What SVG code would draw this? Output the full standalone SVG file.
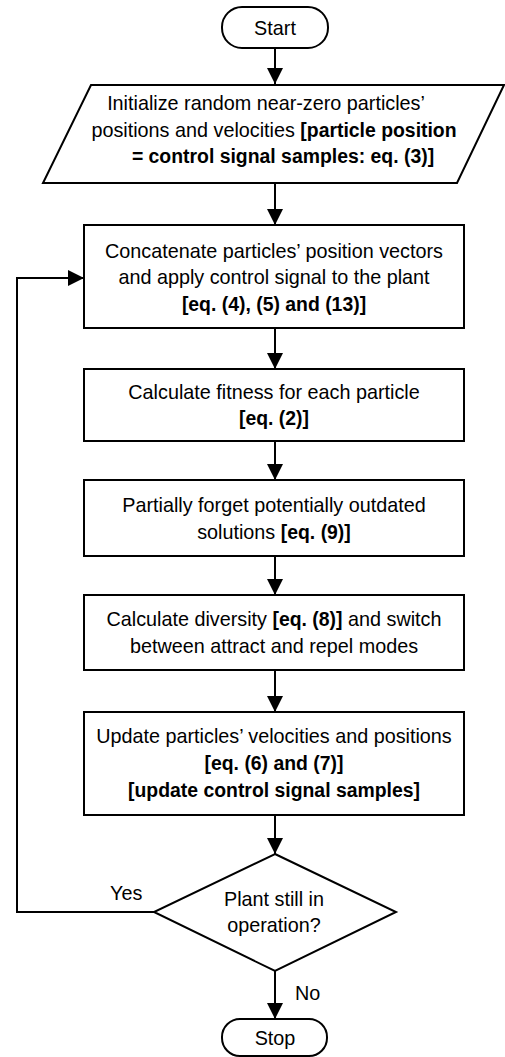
<svg xmlns="http://www.w3.org/2000/svg" width="505" height="1057" viewBox="0 0 505 1057">
<style>
.shape{fill:#fff;stroke:#000;stroke-width:2}
.conn{fill:none;stroke:#000;stroke-width:2}
text{font-family:"Liberation Sans",Arial,sans-serif;font-size:19.8px;fill:#000;text-anchor:middle}
.b{font-weight:bold;font-size:19.4px}
.lbl{text-anchor:start}
</style>
<defs>
<marker id="arr" viewBox="0 0 16 16" refX="16" refY="8" markerWidth="16" markerHeight="16" markerUnits="userSpaceOnUse" orient="auto">
<path d="M0,0 L16,8 L0,16 Z" fill="#000"/>
</marker>
</defs>
<rect width="505" height="1057" fill="#fff"/>
<g id="connectors">
<line class="conn" x1="275" y1="48" x2="275" y2="84" marker-end="url(#arr)"/>
<line class="conn" x1="275" y1="183" x2="275" y2="225" marker-end="url(#arr)"/>
<line class="conn" x1="275" y1="328" x2="275" y2="369" marker-end="url(#arr)"/>
<line class="conn" x1="275" y1="441" x2="275" y2="480" marker-end="url(#arr)"/>
<line class="conn" x1="275" y1="556" x2="275" y2="595" marker-end="url(#arr)"/>
<line class="conn" x1="275" y1="670" x2="275" y2="712" marker-end="url(#arr)"/>
<line class="conn" x1="275" y1="815" x2="275" y2="854" marker-end="url(#arr)"/>
<line class="conn" x1="275" y1="971" x2="275" y2="1019" marker-end="url(#arr)"/>
<polyline class="conn" points="154,912 17,912 17,278 84,278" marker-end="url(#arr)"/>
<text class="lbl" x="110" y="900">Yes</text>
<text class="lbl" x="295" y="1000">No</text>
</g>
<g id="start">
<rect class="shape" x="222" y="7" width="106" height="41" rx="20"/>
<text x="275" y="35">Start</text>
</g>
<g id="init">
<polygon class="shape" points="91,85 504,85 457,183 43,183"/>
<text x="266" y="110">Initialize random near-zero particles’</text>
<text x="274" y="137">positions and velocities <tspan class="b">[particle position</tspan></text>
<text x="283" y="163" class="b">= control signal samples: eq. (3)]</text>
</g>
<g id="concat">
<rect class="shape" x="84" y="225" width="380" height="103"/>
<text x="274" y="258">Concatenate particles’ position vectors</text>
<text x="274" y="284">and apply control signal to the plant</text>
<text x="274" y="311" class="b">[eq. (4), (5) and (13)]</text>
</g>
<g id="fitness">
<rect class="shape" x="84" y="369" width="380" height="72"/>
<text x="274" y="399">Calculate fitness for each particle</text>
<text x="274" y="425" class="b">[eq. (2)]</text>
</g>
<g id="forget">
<rect class="shape" x="84" y="480" width="380" height="76"/>
<text x="274" y="512">Partially forget potentially outdated</text>
<text x="274" y="539">solutions <tspan class="b">[eq. (9)]</tspan></text>
</g>
<g id="diversity">
<rect class="shape" x="84" y="595" width="380" height="75"/>
<text x="274" y="626">Calculate diversity <tspan class="b">[eq. (8)]</tspan> and switch</text>
<text x="274" y="653">between attract and repel modes</text>
</g>
<g id="update">
<rect class="shape" x="84" y="712" width="380" height="103"/>
<text x="274" y="743">Update particles’ velocities and positions</text>
<text x="274" y="770" class="b">[eq. (6) and (7)]</text>
<text x="274" y="797" class="b">[update control signal samples]</text>
</g>
<g id="decision">
<polygon class="shape" points="275,854 396,912 275,971 154,912"/>
<text x="274" y="906">Plant still in</text>
<text x="274" y="932">operation?</text>
</g>
<g id="stop">
<rect class="shape" x="222" y="1019" width="105" height="37" rx="18"/>
<text x="275" y="1045">Stop</text>
</g>
</svg>
